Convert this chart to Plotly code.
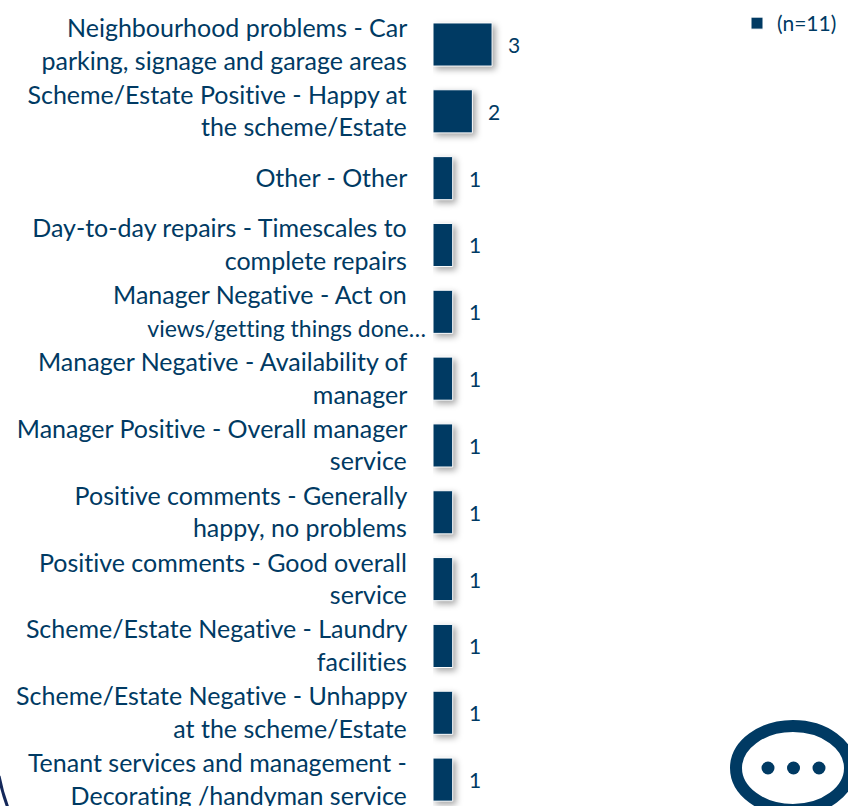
import plotly.graph_objects as go

categories = [
    "Neighbourhood problems - Car<br>parking, signage and garage areas",
    "Scheme/Estate Positive - Happy at<br>the scheme/Estate",
    "Other - Other",
    "Day-to-day repairs - Timescales to<br>complete repairs",
    "Manager Negative - Act on<br>views/getting things done…",
    "Manager Negative - Availability of<br>manager",
    "Manager Positive - Overall manager<br>service",
    "Positive comments - Generally<br>happy, no problems",
    "Positive comments - Good overall<br>service",
    "Scheme/Estate Negative - Laundry<br>facilities",
    "Scheme/Estate Negative - Unhappy<br>at the scheme/Estate",
    "Tenant services and management -<br>Decorating /handyman service",
]
values = [3, 2, 1, 1, 1, 1, 1, 1, 1, 1, 1, 1]
series_name = "(n=11)"

NAVY = "#003A63"
FONT = "Lato, Carlito, sans-serif"
W, H = 848, 806
L = 433
PAD = "\u00a0" * 3


def pad_line(line):
    if line.endswith("…"):
        return f'<span style="font-size:23px">{line}</span>'
    return line + PAD


ticktext = ["<br>".join(pad_line(s) for s in c.split("<br>")) for c in categories]


def px(x):
    return (x - L) / (W - L)


def py(y):
    return 1 - y / H


fig = go.Figure()
fig.add_trace(go.Bar(
    x=values, y=categories, orientation="h", name=series_name,
    marker=dict(color=NAVY, line=dict(color="#ffffff", width=1)),
    showlegend=True,
))

annotations = [
    dict(x=v, y=c, text=str(v), showarrow=False, xanchor="left", xshift=14,
         font=dict(family=FONT, size=21, color=NAVY))
    for c, v in zip(categories, values)
]


def ellipse(x0, y0, x1, y1, **kw):
    return dict(type="circle", xref="paper", yref="paper",
                x0=px(x0), x1=px(x1), y0=py(y0), y1=py(y1), **kw)


shapes = [
    ellipse(736, 726, 850, 810, line=dict(color=NAVY, width=12), fillcolor="rgba(0,0,0,0)"),
]
for cx in (768, 793.5, 819):
    shapes.append(ellipse(cx - 6.5, 761.5, cx + 6.5, 774.5, line=dict(width=0), fillcolor=NAVY))
shapes.append(dict(
    type="path", xref="paper", yref="paper",
    path=f"M {px(-1)} {py(776)} Q {px(2)} {py(792)} {px(8)} {py(808)}",
    line=dict(color="#14285A", width=3),
))

fig.update_layout(
    width=W, height=H, autosize=False,
    margin=dict(l=L, r=0, t=0, b=0, pad=0),
    paper_bgcolor="white", plot_bgcolor="white",
    bargap=0.355,
    font=dict(family=FONT, color=NAVY),
    xaxis=dict(range=[0, 21.07], visible=False, fixedrange=True),
    yaxis=dict(
        type="category", categoryorder="array", categoryarray=categories,
        range=[11.395, -0.666], tickmode="array", tickvals=categories, ticktext=ticktext,
        ticks="", showline=False, ticklabelstandoff=6,
        showgrid=False, zeroline=False, automargin=False,
        tickfont=dict(family=FONT, size=25, color=NAVY),
    ),
    legend=dict(x=px(737), y=py(3), xanchor="left", yanchor="top",
                bgcolor="rgba(0,0,0,0)", font=dict(family=FONT, size=21, color=NAVY)),
    annotations=annotations,
    shapes=shapes,
)

page_js = """
document.body.style.margin='0';
document.body.style.overflow='hidden';
document.querySelectorAll('svg text').forEach(function(t){
  t.style.fontVariantLigatures='none';
});
document.querySelectorAll('.barlayer .point path').forEach(function(p){
  p.style.filter='drop-shadow(3px 3px 3px rgba(0,0,0,0.35))';
});
"""
fig.write_html("out.html", post_script=page_js, config={"displayModeBar": False})
